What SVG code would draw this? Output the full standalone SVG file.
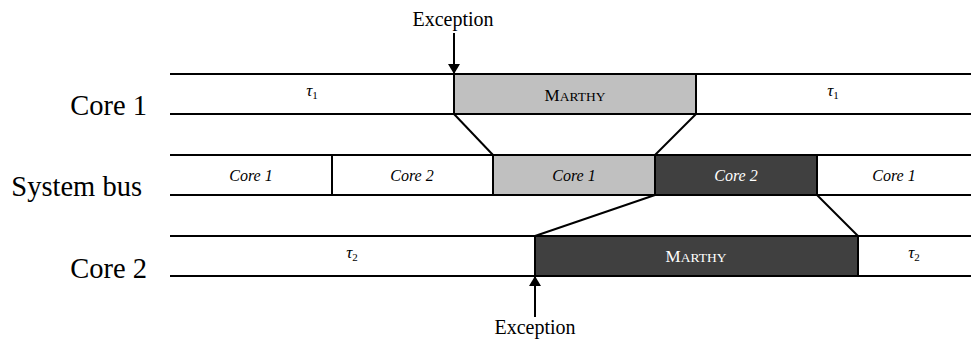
<svg xmlns="http://www.w3.org/2000/svg" width="971" height="340" viewBox="0 0 971 340">
<style>
.row{font-family:"Liberation Serif",serif;font-size:28.5px;fill:#000;text-anchor:end}
.exc{font-family:"Liberation Serif",serif;font-size:20px;fill:#000;text-anchor:middle}
.bus{font-family:"Liberation Serif",serif;font-style:italic;font-size:16px;text-anchor:middle}
.tau{font-family:"Liberation Serif",serif;font-style:italic;font-size:17px;text-anchor:middle}
.sc{font-family:"Liberation Serif",serif;font-size:17px;text-anchor:middle}
.ln{stroke:#000;stroke-width:2;fill:none}
.box{stroke:#000;stroke-width:2}
.lg{fill:#c0c0c0}
.dk{fill:#404040}
.w{fill:#fff}
.b{fill:#000}
</style>
<defs>
<marker id="ah" markerWidth="10" markerHeight="12" refX="10" refY="6" orient="auto" markerUnits="userSpaceOnUse">
<path d="M0,0 L10,6 L0,12 Z" fill="#000"/>
</marker>
</defs>
<rect width="971" height="340" fill="#fff"/>
<g id="labels">
<text class="row" x="147" y="115">Core 1</text>
<text class="row" x="142" y="196">System bus</text>
<text class="row" x="147" y="278">Core 2</text>
</g>
<g id="core1">
<rect class="box lg" x="454" y="74" width="242" height="40"/>
<line class="ln" x1="170" y1="74" x2="971" y2="74"/>
<line class="ln" x1="170" y1="114" x2="971" y2="114"/>
<text class="tau b" x="312" y="96">τ<tspan font-size="11" font-style="normal" dy="3">1</tspan></text>
<text class="sc b" x="575" y="100.5">M<tspan font-size="13.5">ARTHY</tspan></text>
<text class="tau b" x="833" y="96">τ<tspan font-size="11" font-style="normal" dy="3">1</tspan></text>
</g>
<g id="bus">
<rect class="box lg" x="493" y="155" width="162" height="40"/>
<rect class="box dk" x="655" y="155" width="162" height="40"/>
<line class="ln" x1="170" y1="155" x2="971" y2="155"/>
<line class="ln" x1="170" y1="195" x2="971" y2="195"/>
<line class="ln" x1="332" y1="155" x2="332" y2="195"/>
<text class="bus b" x="251" y="181">Core 1</text>
<text class="bus b" x="412" y="181">Core 2</text>
<text class="bus b" x="574" y="181">Core 1</text>
<text class="bus w" x="736" y="181">Core 2</text>
<text class="bus b" x="894" y="181">Core 1</text>
</g>
<g id="core2">
<rect class="box dk" x="535" y="236" width="323" height="40"/>
<line class="ln" x1="170" y1="236" x2="971" y2="236"/>
<line class="ln" x1="170" y1="276" x2="971" y2="276"/>
<text class="tau b" x="352" y="258">τ<tspan font-size="11" font-style="normal" dy="3">2</tspan></text>
<text class="sc w" x="696" y="262">M<tspan font-size="13.5">ARTHY</tspan></text>
<text class="tau b" x="914" y="258">τ<tspan font-size="11" font-style="normal" dy="3">2</tspan></text>
</g>
<g id="connectors">
<line class="ln" x1="454" y1="114" x2="493" y2="155"/>
<line class="ln" x1="696" y1="114" x2="655" y2="155"/>
<line class="ln" x1="655" y1="195" x2="535" y2="236"/>
<line class="ln" x1="817" y1="195" x2="858" y2="236"/>
<line class="ln" x1="454" y1="33" x2="454" y2="74" marker-end="url(#ah)"/>
<line class="ln" x1="535" y1="317" x2="535" y2="276" marker-end="url(#ah)"/>
</g>
<g id="exceptions">
<text class="exc" x="453" y="26">Exception</text>
<text class="exc" x="535" y="334">Exception</text>
</g>
</svg>
